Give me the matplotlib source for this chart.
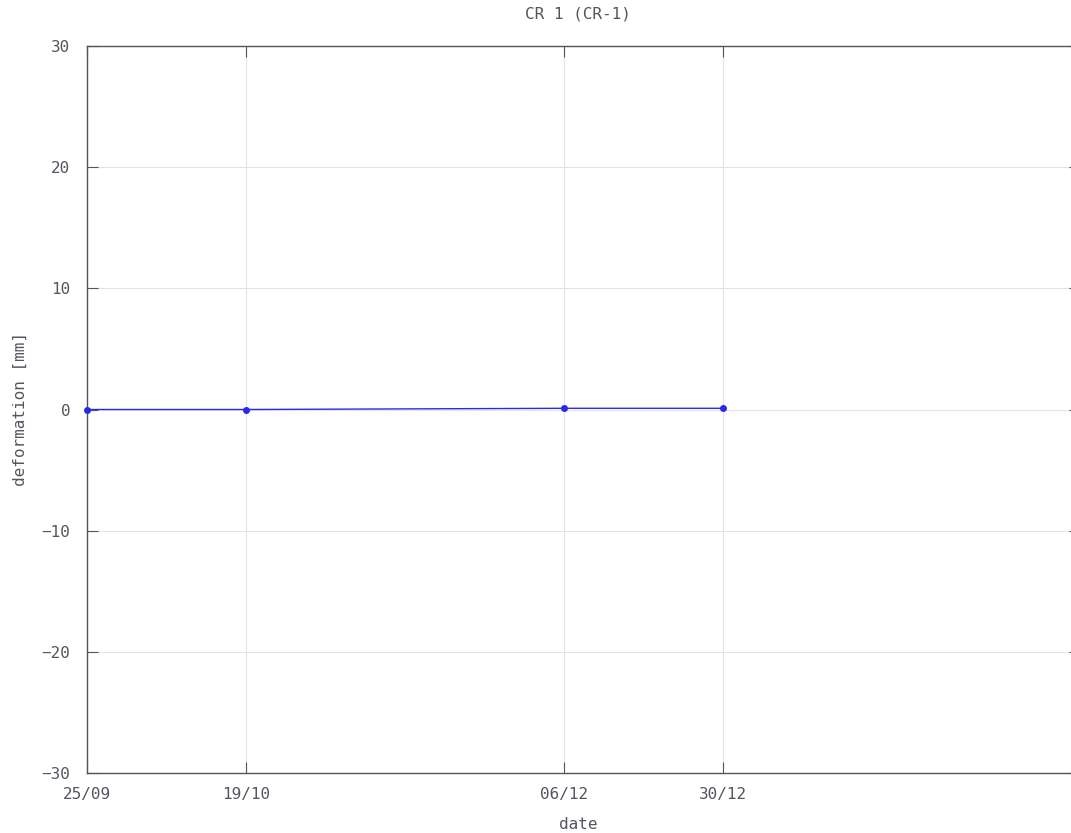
import matplotlib
matplotlib.use("Agg")
import matplotlib.pyplot as plt
import matplotlib.dates as mdates
import pandas as pd

# readings (year not shown on the chart, chosen so the day gaps match)
dates = ["2012-09-25", "2012-10-19", "2012-12-06", "2012-12-30"]
deformation = [0.0, 0.0, 0.1, 0.1]
tick_labels = ["25/09", "19/10", "06/12", "30/12"]

x = pd.to_datetime(dates)

plt.rcParams['font.family'] = ['DejaVu Sans Mono']
txt_color = '#555560'

# the plot frame runs past the right edge of the picture (cropped scan)
left_px, right_px = 87, 1080
fig = plt.figure(figsize=(10.71, 8.33), dpi=100)
ax = fig.add_axes([left_px / 1071, 1 - 773 / 833, (right_px - left_px) / 1071, (773 - 46) / 833])

ax.plot(x, deformation, color='#2a2ae6', lw=1.0, marker='o', ms=4, zorder=3, clip_on=False)

ax.set_xlim(x[0], x[0] + pd.Timedelta(days=(right_px - left_px) / 6.625))
ax.set_ylim(-30, 30)
ax.set_yticks([-30, -20, -10, 0, 10, 20, 30])
ax.set_xticks(mdates.date2num(x))
ax.set_xticklabels(tick_labels)

ax.grid(True, color='#e2e2ea', lw=0.8)
ax.tick_params(direction='in', length=8, width=0.8, colors='#555555',
               labelsize=11.5, labelcolor=txt_color, top=True, right=True)
ax.tick_params(axis='y', pad=12)
ax.tick_params(axis='x', pad=10)
for s in ax.spines.values():
    s.set_color('#555555')
    s.set_linewidth(1.0)

mid = (578 - left_px) / (right_px - left_px)
ax.set_title("CR 1 (CR-1)", fontsize=11.5, color=txt_color, pad=20, x=mid)
ax.set_xlabel("date", fontsize=11.5, color=txt_color)
ax.xaxis.set_label_coords(mid, -0.06)
ax.set_ylabel("deformation [mm]", fontsize=11.5, color=txt_color, labelpad=10)

fig.savefig("out.png", dpi=100, facecolor='white')
